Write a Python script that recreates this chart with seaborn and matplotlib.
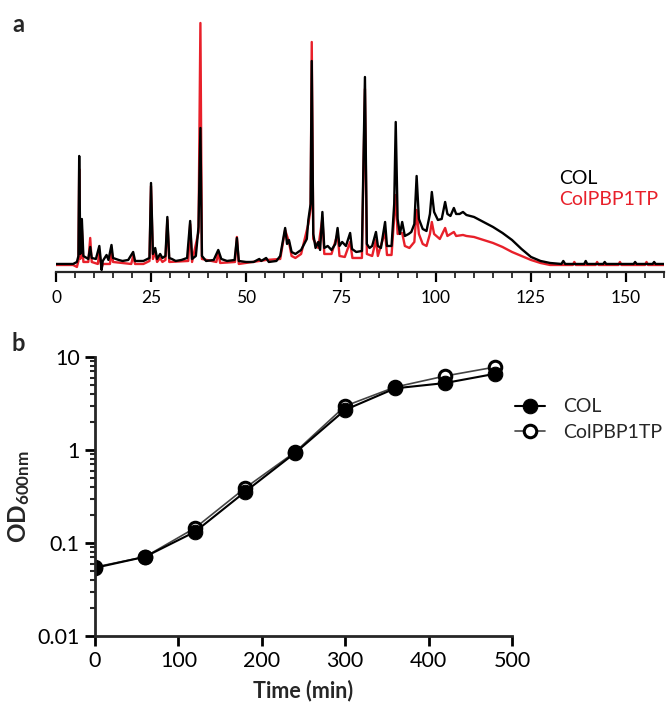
import numpy as np
import pandas as pd
import seaborn as sns
import matplotlib.pyplot as plt
from matplotlib.ticker import FixedLocator, MultipleLocator, FuncFormatter, LogLocator, NullFormatter

# chromatogram traces, signal (arbitrary units, baseline = 0)
col_time = [0, 4.5, 5.5, 5.9, 6.1, 6.4, 6.8, 7.2, 8.5, 9.0, 9.4, 10.5, 11.4, 11.8, 12.0, 12.3,
            13.3, 13.8, 14.6, 15.0, 16.5, 17.5, 19.0, 20.3, 20.8, 23.0, 24.6, 25.0, 25.5, 26.1,
            26.6, 27.4, 28.0, 28.8, 29.3, 29.8, 30.5, 31.5, 33.0, 34.5, 35.3, 35.8, 36.8, 37.5,
            38.0, 38.4, 39.5, 41.5, 42.7, 43.5, 45.0, 47.0, 47.6, 48.1, 50.0, 52.0, 53.5, 54.0,
            55.3, 56.0, 58.0, 59.0, 60.3, 60.8, 61.3, 62.0, 63.0, 64.5, 66.0, 66.4, 67.0, 67.3,
            67.7, 68.3, 69.0, 69.5, 70.1, 70.6, 71.5, 72.5, 73.5, 74.1, 74.6, 75.3, 76.3, 77.4,
            77.9, 79.0, 80.5, 81.3, 81.8, 82.5, 83.2, 84.2, 84.7, 85.5, 86.6, 87.1, 88.3, 89.0,
            89.4, 89.9, 90.5, 91.1, 91.8, 92.8, 93.5, 94.3, 94.9, 95.5, 96.5, 97.5, 98.4, 98.9,
            99.5, 100.5, 101.5, 102.4, 103.0, 103.8, 104.7, 105.3, 106.2, 107.1, 108.0, 110.0,
            112.5, 115.0, 117.5, 120.0, 122.5, 125.0, 127.5, 130.0, 133.0, 133.5, 134.0, 139.0,
            139.4, 139.8, 144.0, 144.4, 144.8, 150.0, 152.0, 152.4, 152.8, 157.0, 157.4, 157.8, 160.0]
col_signal = [0, 0, 2, 8, 108, 10, 45, 8, 5, 17, 6, 5, 18, 3, -6, 3,
              9, 4, 19, 6, 4, 3, 4, 12, 3, 3, 6, 81, 10, 16,
              5, 10, 6, 8, 47, 6, 5, 3, 4, 6, 43, 5, 8, 37,
              136, 8, 3, 4, 14, 5, 3, 4, 26, 3, 2, 2, 5, 3,
              6, 2, 3, 8, 36, 20, 24, 12, 10, 14, 25, 44, 60, 203,
              30, 16, 22, 14, 52, 16, 18, 14, 20, 36, 18, 22, 18, 31,
              15, 12, 13, 187, 20, 16, 18, 32, 18, 16, 42, 18, 18, 60,
              142, 45, 30, 42, 28, 30, 32, 40, 88, 45, 35, 33, 50, 72,
              52, 44, 45, 62, 50, 48, 56, 50, 50, 52, 49, 47,
              42, 37, 31, 24, 15, 7, 3, 1, 0, 3, 0, 0,
              3, 0, 0, 2, 0, 0, 0, 2, 0, 0, 2, 0, 0]

pbp_time = [0, 4.5, 5.5, 5.9, 6.1, 6.4, 6.8, 7.2, 8.5, 9.0, 9.4, 11.0, 11.4, 11.8, 12.0, 12.3,
            14.2, 14.6, 15.0, 19.8, 20.3, 20.8, 23.0, 24.6, 25.0, 25.5, 26.1, 26.6, 27.4, 28.0,
            28.8, 29.3, 29.8, 34.8, 35.3, 35.8, 37.5, 38.0, 38.4, 42.2, 42.7, 43.2, 47.1, 47.6,
            48.1, 53.5, 55.3, 59.0, 60.3, 61.3, 62.0, 63.0, 64.5, 66.4, 67.0, 67.3, 67.7, 69.0,
            70.1, 70.6, 72.5, 74.1, 74.6, 76.0, 77.4, 78.0, 80.5, 81.3, 81.8, 83.2, 84.2, 84.7,
            86.6, 87.1, 88.3, 89.4, 89.9, 91.1, 91.8, 93.0, 94.3, 94.9, 95.5, 96.5, 97.5, 98.4,
            98.9, 99.5, 101.0, 102.4, 103.0, 104.7, 105.3, 107.1, 108.0, 110.0, 112.5, 115.0,
            117.5, 120.0, 122.5, 125.0, 127.5, 130.0, 136.0, 136.4, 136.8, 142.0, 142.4, 142.8,
            148.0, 148.4, 148.8, 155.0, 155.4, 155.8, 160.0]
pbp_signal = [-1, -1, -3, 3, 95, 5, 35, 2, 2, 26, 2, 0, 12, 0, -4, 0,
              0, 14, 2, 0, 8, 0, 0, 3, 78, 5, 12, 2, 6, 2,
              4, 44, 2, 3, 40, 2, 32, 241, 5, 2, 12, 1, 2, 27,
              0, 3, 4, 5, 34, 22, 8, 6, 10, 40, 55, 222, 25, 16,
              46, 10, 10, 30, 8, 7, 22, 6, 6, 175, 10, 8, 24, 8,
              32, 9, 9, 69, 30, 31, 18, 16, 22, 54, 30, 20, 18, 30,
              42, 30, 25, 36, 28, 32, 28, 29, 28, 27, 24, 21,
              17, 12, 8, 4, 1, -1, -1, 2, -1, -1, 2, -1,
              -1, 2, -1, -1, 2, -1, -1]

# growth curves
time_min = [0, 60, 120, 180, 240, 300, 360, 420, 480]
od_col = [0.054, 0.071, 0.132, 0.355, 0.93, 2.7, 4.6, 5.25, 6.6]
od_pbp = [0.055, 0.071, 0.145, 0.39, 0.95, 2.97, 4.75, 6.25, 7.8]

sns.set_theme(style="ticks")
plt.rcParams["font.family"] = ["Lato", "DejaVu Sans"]
plt.rcParams["mathtext.fontset"] = "custom"
plt.rcParams["mathtext.bf"] = "Lato:bold"
plt.rcParams["mathtext.rm"] = "Lato"

chrom = pd.concat([
    pd.DataFrame({"time": col_time, "signal": col_signal, "strain": "COL"}),
    pd.DataFrame({"time": pbp_time, "signal": pbp_signal, "strain": "ColPBP1TP"}),
])
growth = pd.DataFrame({"time": time_min * 2, "od": od_col + od_pbp,
                       "strain": ["COL"] * 9 + ["ColPBP1TP"] * 9})

fig = plt.figure(figsize=(6.66, 7.09), dpi=100)
ax_a = fig.add_axes([0.0841, 0.6164, 0.9129, 0.3554])
ax_b = fig.add_axes([0.1426, 0.1030, 0.6261, 0.3935])

# panel a - chromatograms, red drawn underneath black
sns.lineplot(data=chrom, x="time", y="signal", hue="strain", hue_order=["ColPBP1TP", "COL"],
             palette={"COL": "black", "ColPBP1TP": "#e8202a"}, estimator=None, sort=False,
             linewidth=1.7, ax=ax_a)
ax_a.set_xlim(0, 160)
ax_a.set_ylim(-8, 244)
ax_a.set_xlabel("")
ax_a.set_ylabel("")
ax_a.set_yticks([])
for s in ["top", "right", "left"]:
    ax_a.spines[s].set_visible(False)
ax_a.spines["bottom"].set_linewidth(1.6)
ax_a.xaxis.set_major_locator(MultipleLocator(25))
ax_a.xaxis.set_minor_locator(MultipleLocator(5))
ax_a.tick_params(axis="x", which="major", length=7, width=1.6, labelsize=12.5, pad=6, colors="black")
ax_a.tick_params(axis="x", which="minor", length=4, width=1.3)
handles, labels = ax_a.get_legend_handles_labels()
order = [labels.index("COL"), labels.index("ColPBP1TP")]
ax_a.legend([handles[i] for i in order], [labels[i] for i in order], loc="upper left",
            bbox_to_anchor=(0.799, 0.475), frameon=False, handlelength=0, handletextpad=0,
            labelcolor="linecolor", fontsize=14, labelspacing=0.2)

# panel b - growth curves
sns.lineplot(data=growth[growth.strain == "ColPBP1TP"], x="time", y="od", color="#444444",
             linewidth=1.2, marker="o", markersize=9, markerfacecolor="white",
             markeredgecolor="black", markeredgewidth=2.2, label="ColPBP1TP", ax=ax_b)
sns.lineplot(data=growth[growth.strain == "COL"], x="time", y="od", color="black",
             linewidth=1.5, marker="o", markersize=10.5, markerfacecolor="black",
             markeredgecolor="black", label="COL", ax=ax_b)
ax_b.set_yscale("log")
ax_b.set_ylim(0.01, 10)
ax_b.set_xlim(0, 500)
ax_b.set_xticks([0, 100, 200, 300, 400, 500])
ax_b.yaxis.set_major_locator(FixedLocator([0.01, 0.1, 1, 10]))
ax_b.yaxis.set_major_formatter(FuncFormatter(lambda v, p: f"{v:g}"))
ax_b.yaxis.set_minor_locator(LogLocator(base=10, subs=np.arange(2, 10)))
ax_b.yaxis.set_minor_formatter(NullFormatter())
for s in ["top", "right"]:
    ax_b.spines[s].set_visible(False)
for s in ["left", "bottom"]:
    ax_b.spines[s].set_linewidth(2)
ax_b.tick_params(which="major", length=7, width=2, labelsize=15.5, pad=4, colors="black")
ax_b.tick_params(axis="y", which="minor", length=3.5, width=1.5)
ax_b.set_xlabel("Time (min)", fontsize=15.5, fontweight="bold", labelpad=6)
ax_b.set_ylabel(r"$\mathbf{OD_{600nm}}$", fontsize=17.5)
ax_b.yaxis.set_label_coords(-0.15, 0.5)
h, l = ax_b.get_legend_handles_labels()
ax_b.legend([h[l.index("COL")], h[l.index("ColPBP1TP")]], ["COL", "ColPBP1TP"],
            loc="center left", bbox_to_anchor=(0.966, 0.775), frameon=False,
            fontsize=14, handlelength=1.55, handletextpad=0.9, labelspacing=0.45)

fig.text(0.018, 0.965, "a", fontsize=17, fontweight="bold", va="center")
fig.text(0.018, 0.515, "b", fontsize=17, fontweight="bold", va="center")

fig.savefig("out.png", dpi=100)
